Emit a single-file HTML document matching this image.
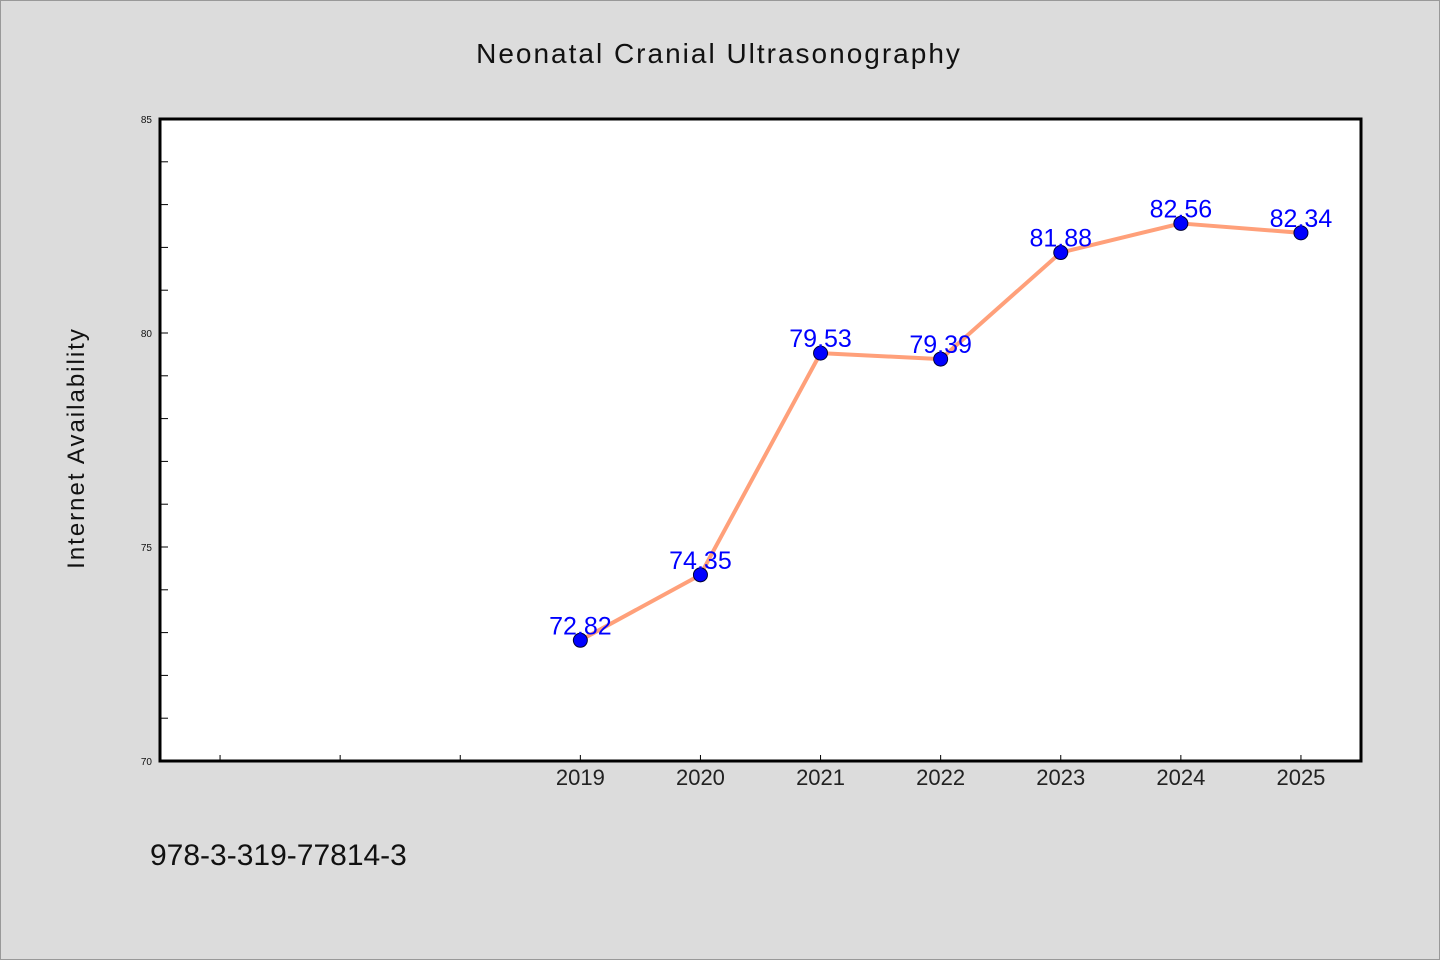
<!DOCTYPE html>
<html><head><meta charset="utf-8"><style>
body{margin:0;background:#dcdcdc;}
svg{display:block;font-family:"WenQuanYi Zen Hei","Liberation Sans",sans-serif;}
</style></head><body>
<svg id="chart" width="1440" height="960">
<rect x="0.5" y="0.5" width="1439" height="959" fill="#dcdcdc" stroke="#999"/>
<text x="719" y="63" font-size="28" text-anchor="middle" letter-spacing="2" fill="#111">Neonatal Cranial Ultrasonography</text>
<rect x="160" y="119" width="1201" height="642" fill="#fff"/>
<g id="axes"></g>
<g id="marks"></g>
<rect x="160" y="119" width="1201" height="642" fill="none" stroke="#000" stroke-width="3"/>
<text transform="translate(84,448) rotate(-90)" font-size="24" text-anchor="middle" letter-spacing="2" fill="#111">Internet Availability</text>
<text x="150" y="865" font-size="30" fill="#111">978-3-319-77814-3</text>
</svg>
<script>
const categories=["","","","2019","2020","2021","2022","2023","2024","2025"];
const values=[null,null,null,72.82,74.35,79.53,79.39,81.88,82.56,82.34];
const yTickLabels=[70,75,80,85];
const NS="http://www.w3.org/2000/svg";
const X0=160,X1=1361,Y0=761,Y1=119,YMIN=70,YMAX=85;
const step=(X1-X0)/categories.length;
function xs(i){return X0+step*(i+0.5);}
function ys(v){return Y0-(v-YMIN)/(YMAX-YMIN)*(Y0-Y1);}
function mk(tag,attrs,parent){const e=document.createElementNS(NS,tag);for(const k in attrs)e.setAttribute(k,attrs[k]);parent.appendChild(e);return e;}
const axes=document.getElementById('axes'),marks=document.getElementById('marks');
for(let v=YMIN;v<=YMAX;v++){
  const t=mk('line',{x1:X0,x2:X0+8,y1:ys(v),y2:ys(v),stroke:'#000','stroke-width':1},axes);
  
  
}
yTickLabels.forEach(v=>{
  const t=mk('text',{x:X0-8,y:ys(v)+4,'font-size':10,'text-anchor':'end',fill:'#111'},axes);
  t.textContent=v;
  
  
});
categories.forEach((c,i)=>{
  const t=mk('line',{x1:xs(i),x2:xs(i),y1:Y0,y2:Y0-6,stroke:'#000','stroke-width':1},axes);
  
  
  if(c){
    const l=mk('text',{x:xs(i),y:Y0+24,'font-size':22,'text-anchor':'middle',fill:'#222'},axes);
    l.textContent=c;
    
    
  }
});
const pts=[];values.forEach((v,i)=>{if(v!==null)pts.push([xs(i),ys(v),v]);});
const line=mk('polyline',{points:pts.map(p=>p[0]+','+p[1]).join(' '),fill:'none',stroke:'#ffa07a','stroke-width':4,'stroke-linejoin':'round'},marks);


pts.forEach(p=>{
  const c=mk('circle',{cx:p[0],cy:p[1],r:7,fill:'#0000ff',stroke:'#000033','stroke-width':1},marks);
  
  
  const t=mk('text',{x:p[0],y:p[1]-6,'font-size':25,'text-anchor':'middle',fill:'#0000ff'},marks);
  t.textContent=p[2].toFixed(2);
  
  
});
</script>
</body></html>
